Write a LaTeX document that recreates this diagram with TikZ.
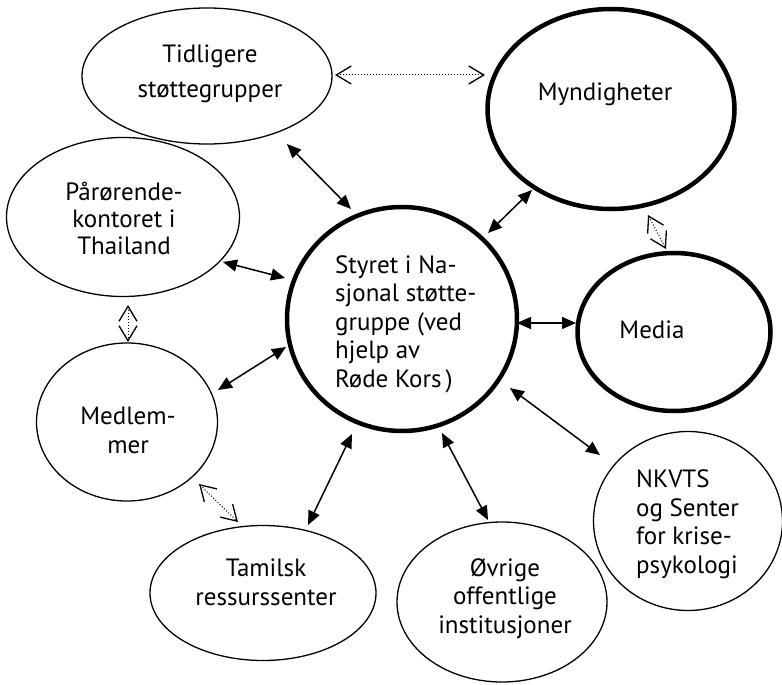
\documentclass[tikz,border=0pt]{standalone}
\usepackage{fontspec}
\setmainfont{PT Sans}
\usetikzlibrary{arrows.meta,shapes.geometric}
\begin{document}
\begin{tikzpicture}[x=1pt,y=-1pt,
  ell/.style={ellipse,draw,line width=1.3pt,inner sep=0pt},
  thick ell/.style={ellipse,draw,line width=4.5pt,inner sep=0pt},
  txt/.style={font=\fontsize{25}{28.5}\selectfont,inner sep=0pt},
  arr/.style={line width=1.5pt,{Triangle[length=14pt,width=12pt]}-{Triangle[length=14pt,width=12pt]}},
  darr/.style={line width=1pt,dotted,{Straight Barb[length=15pt,width=18pt,line width=1.3pt]}-{Straight Barb[length=15pt,width=18pt,line width=1.3pt]}}]
\useasboundingbox (0,0) rectangle (782,685);
% ellipses
\node[ell,minimum width=250pt,minimum height=136pt] (tid) at (207,76) {};
\node[thick ell,minimum width=247pt,minimum height=200pt] (myn) at (611,109) {};
\node[ell,minimum width=233pt,minimum height=159pt] (paa) at (123,217) {};
\node[thick ell,minimum width=230pt,minimum height=224pt] (sty) at (402,319) {};
\node[thick ell,minimum width=193pt,minimum height=158pt] (med) at (674,332) {};
\node[ell,minimum width=181pt,minimum height=158pt] (mem) at (127,422) {};
\node[ell,minimum width=189pt,minimum height=179pt] (nkv) at (688,521) {};
\node[ell,minimum width=226pt,minimum height=135pt] (tam) at (263,593) {};
\node[ell,minimum width=210pt,minimum height=160pt] (ovr) at (502,602) {};
% texts (anchor base = baseline of the last line)
\node[txt,align=center,anchor=base] (ttid) at (210,97) {Tidligere\\[6pt]støttegrupper};
\node[txt,anchor=base] (tmyn) at (605,100) {Myndigheter};
\node[txt,align=center,anchor=base,font=\fontsize{25}{27}\selectfont] (tpaa) at (124,254) {Pårørende-\\kontoret i\\Thailand};
\node[txt,align=left,anchor=base west] (tsty) at (335,387) {Styret i Na-\\sjonal støtte-\\gruppe (ved\\hjelp av\\Røde Kors\,)};
\node[txt,anchor=base] (tmed) at (652,338) {Media};
\node[txt,align=center,anchor=base] (tmem) at (128,453) {Medlem-\\mer};
\node[txt,align=left,anchor=base west] (tnkv) at (636,573) {NKVTS\\og Senter\\for krise-\\psykologi};
\node[txt,align=center,anchor=base] (ttam) at (266,605) {Tamilsk\\ressurssenter};
\node[txt,align=center,anchor=base] (tovr) at (505,633) {Øvrige\\offentlige\\institusjoner};
% arrow end points
\coordinate (a1) at (287,144); \coordinate (b1) at (351,209);
\coordinate (a2) at (532,190); \coordinate (b2) at (488,233);
\coordinate (a3) at (223,262); \coordinate (b3) at (285,278);
\coordinate (a4) at (218,390); \coordinate (b4) at (286,347);
\coordinate (a5) at (517,323); \coordinate (b5) at (576,323);
\coordinate (a6) at (510,388); \coordinate (b6) at (600,455);
\coordinate (a7) at (352,434); \coordinate (b7) at (308,525);
\coordinate (a8) at (442,433); \coordinate (b8) at (488,520);
\draw[arr] (a1) -- (b1);
\draw[arr] (a2) -- (b2);
\draw[arr] (a3) -- (b3);
\draw[arr] (a4) -- (b4);
\draw[arr] (a5) -- (b5);
\draw[arr] (a6) -- (b6);
\draw[arr] (a7) -- (b7);
\draw[arr] (a8) -- (b8);
% dotted arrows
\coordinate (c1) at (335,75); \coordinate (d1) at (485,75);
\coordinate (c2) at (648,215); \coordinate (d2) at (666,249);
\coordinate (c3) at (128,305); \coordinate (d3) at (128,342);
\coordinate (c4) at (199,484); \coordinate (d4) at (238,522);
\draw[darr] (c1) -- (d1);
\draw[darr] (c2) -- (d2);
\draw[darr] (c3) -- (d3);
\draw[darr] (c4) -- (d4);
\end{tikzpicture}
\end{document}
